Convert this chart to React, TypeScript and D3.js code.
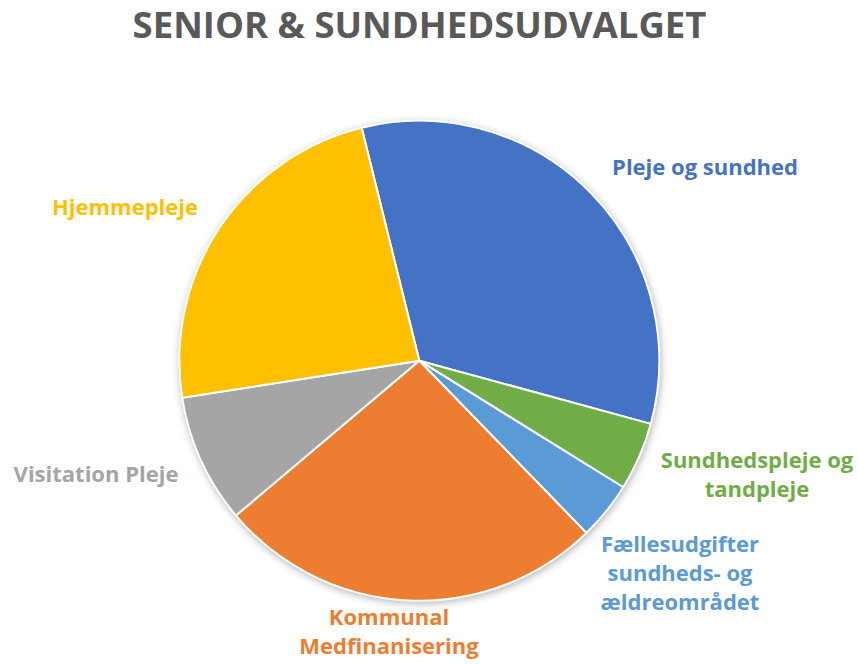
import React from "react";
import * as d3 from "d3";

const categories = [
  "Pleje og sundhed",
  "Sundhedspleje og tandpleje",
  "Fællesudgifter sundheds- og ældreområdet",
  "Kommunal Medfinanisering",
  "Visitation Pleje",
  "Hjemmepleje",
];
const values = [33.1, 4.6, 3.9, 26.1, 8.7, 23.6];
const labelLines = [
  ["Pleje og sundhed"],
  ["Sundhedspleje og", "tandpleje"],
  ["Fællesudgifter", "sundheds- og", "ældreområdet"],
  ["Kommunal", "Medfinanisering"],
  ["Visitation Pleje"],
  ["Hjemmepleje"],
];
const colors = ["#4472C4", "#70AD47", "#5B9BD5", "#ED7D31", "#A5A5A5", "#FFC000"];
const title = "SENIOR & SUNDHEDSUDVALGET";

// layout
const W = 858;
const H = 664;
const cx = 419.3;
const cy = 360.7;
const R = 240;
const startDeg = -13.9;
const labelAnchors: [number, number][] = [
  [705, 175],
  [757, 468],
  [680, 552],
  [389, 625],
  [96, 482],
  [125, 215],
];
const lineH = 29;
const font = "'Open Sans', 'DejaVu Sans', sans-serif";

export default function App() {
  const data = categories.map((c, i) => ({ name: c, value: values[i], i }));
  const start = (startDeg * Math.PI) / 180;
  const pie = d3
    .pie<any>()
    .value((d) => d.value)
    .sort(null)
    .startAngle(start)
    .endAngle(start + 2 * Math.PI);
  const arcs = pie(data);
  const arc = d3.arc<any>().innerRadius(0).outerRadius(R);

  return (
    <svg
      width={W}
      height={H}
      style={{ position: "absolute", left: 0, top: 0, background: "#fff" }}
    >
      <defs>
        <filter id="shadow" x="-20%" y="-20%" width="140%" height="140%">
          <feDropShadow dx="1" dy="2" stdDeviation="4.5" floodColor="#000" floodOpacity="0.35" />
        </filter>
      </defs>
      <rect width={W} height={H} fill="#fff" />
      <text
        x={419.5}
        y={38}
        textAnchor="middle"
        fontFamily={font}
        fontWeight="bold"
        fontSize={36.5}
        fill="#595959"
      >
        {title}
      </text>
      <g transform={`translate(${cx},${cy})`}>
        <circle r={R} fill="#fff" filter="url(#shadow)" />
        {arcs.map((a, i) => (
          <path
            key={i}
            d={arc(a) || ""}
            fill={colors[i]}
            stroke="#fff"
            strokeWidth={2}
            strokeLinejoin="round"
          />
        ))}
      </g>
      {labelLines.map((lines, i) =>
        lines.map((ln, j) => (
          <text
            key={`${i}-${j}`}
            x={labelAnchors[i][0]}
            y={labelAnchors[i][1] + j * lineH}
            textAnchor="middle"
            fontFamily={font}
            fontWeight="bold"
            fontSize={22}
            fill={colors[i]}
          >
            {ln}
          </text>
        ))
      )}
    </svg>
  );
}
